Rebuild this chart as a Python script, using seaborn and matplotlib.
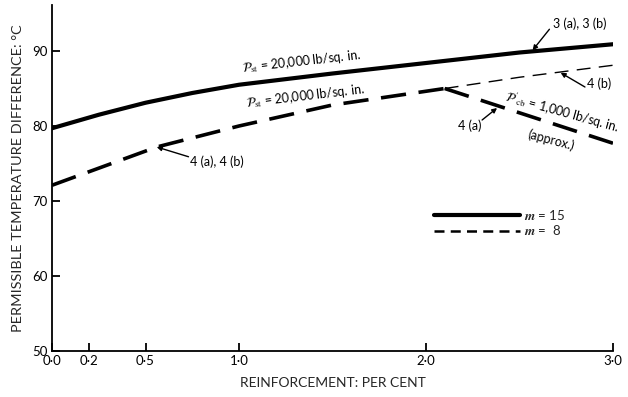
import matplotlib
matplotlib.use("Agg")
import matplotlib.pyplot as plt
from matplotlib.lines import Line2D
import seaborn as sns

# values
pct_m15 = [0.0, 0.25, 0.5, 0.75, 1.0, 1.5, 2.0, 2.5, 3.0]
temp_m15 = [79.7, 81.5, 83.1, 84.4, 85.5, 87.0, 88.4, 89.8, 90.9]

pct_m8 = [0.0, 0.56, 1.0, 1.5, 2.1]
temp_m8 = [72.1, 77.2, 80.0, 82.8, 85.0]

pct_4b = [2.1, 2.5, 3.0]
temp_4b = [85.0, 86.5, 88.1]

pct_4a = [2.1, 3.0]
temp_4a = [85.0, 77.7]

xticks = [0.0, 0.2, 0.5, 1.0, 2.0, 3.0]
xtick_labels = ["0·0", "0·2", "0·5", "1·0", "2·0", "3·0"]
yticks = [50, 60, 70, 80, 90]

sns.set_style("ticks")
plt.rcParams['font.family'] = ['Lato', 'DejaVu Sans']
plt.rcParams['mathtext.fontset'] = 'stix'

fig = plt.figure(figsize=(6.28, 3.97), dpi=100)
ax = fig.add_axes([52 / 628, 46 / 397, 561 / 628, 346.5 / 397])

sns.lineplot(x=pct_m15, y=temp_m15, ax=ax, color='black', lw=3.0, estimator=None)
sns.lineplot(x=pct_m8, y=temp_m8, ax=ax, color='black', lw=2.6, estimator=None,
             linestyle=(0, (7, 3.5)))
sns.lineplot(x=pct_4b, y=temp_4b, ax=ax, color='black', lw=1.0, estimator=None,
             linestyle=(0, (10, 6)))
sns.lineplot(x=pct_4a, y=temp_4a, ax=ax, color='black', lw=2.6, estimator=None,
             linestyle=(0, (7, 3.5)))

ax.set_xlim(0, 3.0)
ax.set_ylim(50, 96.2)
ax.set_xticks(xticks)
ax.set_xticklabels(xtick_labels)
ax.set_yticks(yticks)
ax.tick_params(direction='in', length=6, width=1.3, labelsize=9.5, pad=3, colors='black')
for side in ['left', 'bottom']:
    ax.spines[side].set_linewidth(1.3)
    ax.spines[side].set_color('black')
sns.despine(ax=ax)

ax.set_xlabel("REINFORCEMENT: PER CENT", fontsize=10, labelpad=7)
ax.set_ylabel("PERMISSIBLE TEMPERATURE DIFFERENCE: °C", fontsize=10.4, labelpad=6)

txt = dict(fontsize=9, color='black')
ax.text(1.02, 87.2, r"$\mathcal{P}_{\rm st}$ = 20,000 lb/sq. in.", rotation=6.3,
        rotation_mode='anchor', ha='left', va='baseline', **txt)
ax.text(1.04, 82.5, r"$\mathcal{P}_{\rm st}$ = 20,000 lb/sq. in.", rotation=6.7,
        rotation_mode='anchor', ha='left', va='baseline', **txt)
ax.text(2.42, 83.3, r"$\mathcal{P}'_{\rm cb}$ = 1,000 lb/sq. in.", rotation=-15.6,
        rotation_mode='anchor', ha='left', va='baseline', **txt)
ax.text(2.67, 78.1, "(approx.)", rotation=-15, ha='center', va='center', **txt)

ax.text(2.68, 93.7, "3 (a), 3 (b)", ha='left', va='center', **txt)
ax.text(2.86, 85.7, "4 (b)", ha='left', va='center', **txt)
ax.text(2.17, 80.0, "4 (a)", ha='left', va='center', **txt)
ax.text(0.74, 75.3, "4 (a), 4 (b)", ha='left', va='center', **txt)

arrow = dict(arrowstyle='-|>', color='black', lw=1.0, mutation_scale=7,
             shrinkA=0, shrinkB=0)
ax.annotate("", xy=(2.57, 90.1), xytext=(2.66, 92.9), arrowprops=arrow)
ax.annotate("", xy=(2.72, 87.1), xytext=(2.85, 85.2), arrowprops=arrow)
ax.annotate("", xy=(2.38, 82.4), xytext=(2.30, 80.8), arrowprops=arrow)
ax.annotate("", xy=(0.56, 77.2), xytext=(0.73, 75.9), arrowprops=arrow)

handles = [Line2D([], [], color='black', lw=3.0),
           Line2D([], [], color='black', lw=1.8, linestyle=(0, (4, 2.5)))]
ax.legend(handles, [r"$\boldsymbol{m}$ = 15", r"$\boldsymbol{m}$ =  8"],
          loc='upper left', bbox_to_anchor=(0.66, 0.447), frameon=False,
          handlelength=6.5, handletextpad=0.3, labelspacing=0.1, fontsize=9.5)

fig.savefig("out.png", dpi=100)
